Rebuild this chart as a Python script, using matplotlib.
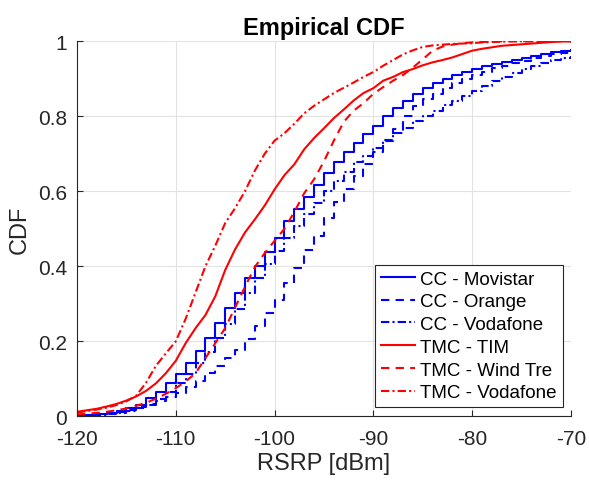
import matplotlib
matplotlib.use("Agg")
import matplotlib.pyplot as plt
import numpy as np

plt.rcParams['font.family'] = ['Liberation Sans', 'DejaVu Sans']

# RSRP grid (dBm), 1 dB resolution
rsrp = list(range(-120, -69))

# CC curves (step CDFs, value on [x, x+1))
cc_movistar = [0.003, 0.004, 0.006, 0.009, 0.014, 0.021, 0.030, 0.048, 0.066, 0.089,
               0.113, 0.141, 0.173, 0.210, 0.248, 0.288, 0.329, 0.369, 0.402, 0.437,
               0.475, 0.520, 0.552, 0.584, 0.617, 0.648, 0.677, 0.706, 0.729, 0.752,
               0.775, 0.800, 0.822, 0.842, 0.859, 0.875, 0.888, 0.899, 0.910, 0.917,
               0.926, 0.933, 0.940, 0.946, 0.951, 0.955, 0.962, 0.966, 0.971, 0.975,
               0.978]
cc_orange = [0.002, 0.003, 0.005, 0.008, 0.012, 0.017, 0.024, 0.032, 0.042, 0.052,
             0.062, 0.078, 0.095, 0.115, 0.135, 0.155, 0.178, 0.205, 0.240, 0.275,
             0.310, 0.355, 0.395, 0.443, 0.482, 0.528, 0.571, 0.605, 0.640, 0.672,
             0.705, 0.735, 0.765, 0.800, 0.828, 0.845, 0.860, 0.875, 0.888, 0.900,
             0.910, 0.918, 0.928, 0.935, 0.942, 0.948, 0.955, 0.960, 0.965, 0.970,
             0.975]
cc_vodafone = [0.002, 0.003, 0.004, 0.006, 0.009, 0.014, 0.021, 0.030, 0.046, 0.066,
               0.089, 0.112, 0.142, 0.172, 0.208, 0.247, 0.287, 0.328, 0.368, 0.406,
               0.442, 0.475, 0.507, 0.540, 0.570, 0.602, 0.627, 0.652, 0.677, 0.695,
               0.715, 0.737, 0.755, 0.770, 0.788, 0.800, 0.815, 0.830, 0.842, 0.855,
               0.868, 0.882, 0.895, 0.905, 0.915, 0.925, 0.935, 0.942, 0.950, 0.955,
               0.960]

# TMC curves (fine-grained CDFs)
tmc_tim = [0.012, 0.016, 0.020, 0.026, 0.033, 0.042, 0.053, 0.068, 0.088, 0.115,
           0.148, 0.195, 0.235, 0.270, 0.320, 0.390, 0.445, 0.490, 0.525, 0.562,
           0.605, 0.643, 0.672, 0.712, 0.742, 0.768, 0.795, 0.818, 0.842, 0.862,
           0.875, 0.895, 0.905, 0.918, 0.926, 0.936, 0.944, 0.950, 0.957, 0.966,
           0.975, 0.980, 0.984, 0.988, 0.990, 0.992, 0.994, 0.996, 0.998, 1.000,
           1.000]
tmc_windtre = [0.005, 0.007, 0.009, 0.012, 0.016, 0.021, 0.028, 0.036, 0.047, 0.060,
               0.075, 0.093, 0.115, 0.155, 0.195, 0.235, 0.290, 0.345, 0.398, 0.435,
               0.468, 0.500, 0.545, 0.595, 0.632, 0.680, 0.735, 0.785, 0.815, 0.835,
               0.860, 0.878, 0.895, 0.910, 0.930, 0.952, 0.975, 0.986, 0.991, 0.995,
               0.997, 0.998, 0.999, 1.000, 1.000, 1.000, 1.000, 1.000, 1.000, 1.000,
               1.000]
tmc_vodafone = [0.010, 0.014, 0.018, 0.023, 0.030, 0.040, 0.055, 0.090, 0.135, 0.168,
                0.200, 0.260, 0.330, 0.400, 0.455, 0.515, 0.555, 0.600, 0.655, 0.700,
                0.735, 0.755, 0.780, 0.808, 0.828, 0.845, 0.862, 0.876, 0.890, 0.905,
                0.918, 0.935, 0.950, 0.965, 0.976, 0.985, 0.989, 0.991, 0.993, 0.994,
                0.995, 0.997, 0.998, 0.999, 1.000, 1.000, 1.000, 1.000, 1.000, 1.000,
                1.000]

labels = ["CC - Movistar", "CC - Orange", "CC - Vodafone",
          "TMC - TIM", "TMC - Wind Tre", "TMC - Vodafone"]
xticks = [-120, -110, -100, -90, -80, -70]
yticks = [0, 0.2, 0.4, 0.6, 0.8, 1]
ytick_labels = ["0", "0.2", "0.4", "0.6", "0.8", "1"]

fig = plt.figure(figsize=(5.89, 4.85), dpi=100)
ax = fig.add_axes([0.1307, 0.1396, 0.9694 - 0.1307, 0.9128 - 0.1396])

lw = 1.5
dash = (4, 3)
dashdot = (4, 1.5, 1, 1.5)

ax.step(rsrp, cc_movistar, where='post', color='#0000ff', lw=lw, label=labels[0])
ax.step(rsrp, cc_orange, where='post', color='#0000ff', lw=lw, dashes=dash, label=labels[1])
ax.step(rsrp, cc_vodafone, where='post', color='#0000ff', lw=lw, dashes=dashdot, label=labels[2])
ax.plot(rsrp, tmc_tim, color='#ff0000', lw=lw, label=labels[3])
ax.plot(rsrp, tmc_windtre, color='#ff0000', lw=lw, dashes=dash, label=labels[4])
ax.plot(rsrp, tmc_vodafone, color='#ff0000', lw=lw, dashes=dashdot, label=labels[5])

ax.set_xlim(-120, -70)
ax.set_ylim(0, 1)
ax.set_xticks(xticks)
ax.set_xticklabels([str(t) for t in xticks])
ax.set_yticks(yticks)
ax.set_yticklabels(ytick_labels)
ax.grid(True, color='#e3e3e3', lw=0.8)
ax.set_axisbelow(True)
for s in ['top', 'right']:
    ax.spines[s].set_visible(False)
for s in ['left', 'bottom']:
    ax.spines[s].set_color('#262626')
    ax.spines[s].set_linewidth(0.8)
ax.tick_params(direction='in', length=4, width=0.8, colors='#262626',
               labelsize=15, labelcolor='#262626')
ax.tick_params(axis='x', pad=9)
ax.tick_params(axis='y', pad=7)

ax.set_xlabel("RSRP [dBm]", fontsize=17, color='#262626', labelpad=3)
ax.set_ylabel("CDF", fontsize=17, color='#262626', labelpad=5)
ax.set_title("Empirical CDF", fontsize=17, fontweight='bold', color='black', pad=5)

leg = ax.legend(loc='lower right', bbox_to_anchor=(0.983, 0.025), fontsize=13.5,
                frameon=True, fancybox=False, edgecolor='#262626', framealpha=1,
                handlelength=1.8, handletextpad=0.3, borderpad=0.3, labelspacing=0.3,
                borderaxespad=0)
leg.get_frame().set_linewidth(0.8)

fig.savefig("out.png", dpi=100)
